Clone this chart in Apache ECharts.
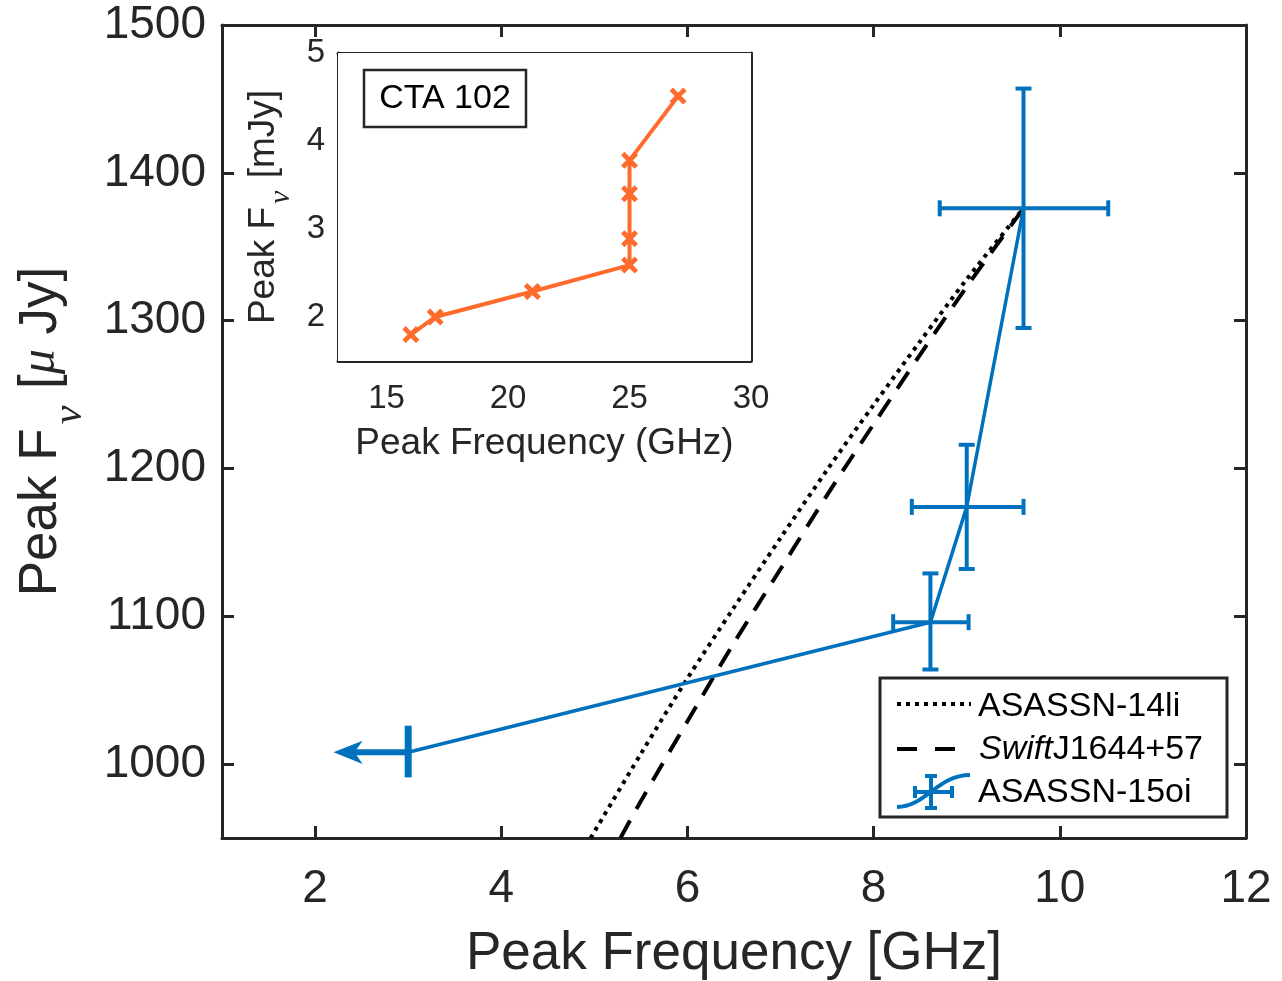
<!DOCTYPE html>
<html><head><meta charset="utf-8">
<script src="https://cdn.jsdelivr.net/npm/echarts@6/dist/echarts.min.js"></script>
<style>html,body{margin:0;padding:0;background:#fff}#c{width:1282px;height:981px}</style>
</head><body><div id="c"></div>
<script>
// ---------- data ----------
const mainXTicks = [2, 4, 6, 8, 10, 12];
const mainYTicks = [1000, 1100, 1200, 1300, 1400, 1500];
const insetXTicks = [15, 20, 25, 30];
const insetYTicks = [2, 3, 4, 5];

// ASASSN-15oi (first epoch is an upper limit in frequency)
const oiX     = [3.0, 8.61, 9.0, 9.61];
const oiY     = [1008, 1096, 1174, 1376];
const oiXLow  = [null, 8.21, 8.41, 8.71];
const oiXHigh = [null, 9.02, 9.61, 10.52];
const oiYLow  = [991, 1064, 1132, 1295];
const oiYHigh = [1026, 1129, 1216, 1457];
const oiLimitTo = 2.22;

// ASASSN-14li track
const li14X = [4.96, 5.5, 6.0, 6.5, 7.0, 7.5, 8.0, 8.5, 9.0, 9.61];
const li14Y = [950, 1007, 1058, 1106, 1153, 1199, 1243, 1286, 1328, 1376];
// Swift J1644+57 track
const swiftX = [5.28, 5.5, 6.0, 6.5, 7.0, 7.5, 8.0, 8.5, 9.0, 9.61];
const swiftY = [950, 975, 1029, 1082, 1132, 1182, 1230, 1277, 1323, 1376];

// CTA 102 (inset)
const ctaX = [16, 17, 21, 25, 25, 25, 25, 27];
const ctaY = [1.80, 2.00, 2.29, 2.59, 2.89, 3.40, 3.78, 4.51];

// ---------- styles ----------
const FONT = '"Liberation Sans", Arial, Helvetica, sans-serif';
const SERIF = '"Liberation Serif", "DejaVu Serif", serif';
const TXT = '#262626';
const BLUE = '#0072BD';
const ORANGE = '#FF6B2C';

const chart = echarts.init(document.getElementById('c'), null, {renderer: 'canvas'});

function frameAxis(base, extra) {
  return Object.assign({
    type: 'value',
    axisLine: {show: true, onZero: false, lineStyle: {color: TXT, width: 3}},
    splitLine: {show: false},
    axisPointer: {show: false}
  }, base, extra);
}
const plain = v => String(v);

const zip = (a, b) => a.map((v, i) => [v, b[i]]);
const errData = oiX.map((x, i) => [x, oiY[i], oiXLow[i], oiXHigh[i], oiYLow[i], oiYHigh[i]])
  .filter(d => d[2] !== null);
const limData = [[oiX[0], oiY[0], oiLimitTo, oiYLow[0], oiYHigh[0]]];

function renderErr(params, api) {
  const x = api.value(0), y = api.value(1);
  const c = api.coord([x, y]);
  const pxl = api.coord([api.value(2), y]), pxh = api.coord([api.value(3), y]);
  const pyl = api.coord([x, api.value(4)]), pyh = api.coord([x, api.value(5)]);
  const st = {stroke: BLUE, lineWidth: 4, lineCap: 'butt'};
  const cap = 8;
  const L = (x1, y1, x2, y2) => ({type: 'line', shape: {x1, y1, x2, y2}, style: st});
  return {type: 'group', children: [
    L(pxl[0], c[1], pxh[0], c[1]),
    L(pxl[0], c[1] - cap, pxl[0], c[1] + cap),
    L(pxh[0], c[1] - cap, pxh[0], c[1] + cap),
    L(c[0], pyl[1], c[0], pyh[1]),
    L(c[0] - cap, pyl[1], c[0] + cap, pyl[1]),
    L(c[0] - cap, pyh[1], c[0] + cap, pyh[1])
  ]};
}

function renderLim(params, api) {
  const x = api.value(0), y = api.value(1);
  const c = api.coord([x, y]);
  const tip = api.coord([api.value(2), y]);
  const pyl = api.coord([x, api.value(3)]), pyh = api.coord([x, api.value(4)]);
  return {type: 'group', children: [
    {type: 'line', shape: {x1: tip[0] + 14, y1: c[1], x2: c[0], y2: c[1]}, style: {stroke: BLUE, lineWidth: 6}},
    {type: 'line', shape: {x1: c[0], y1: pyl[1], x2: c[0], y2: pyh[1]}, style: {stroke: BLUE, lineWidth: 7}},
    {type: 'polygon', shape: {points: [[tip[0], c[1]], [tip[0] + 25, c[1] - 10], [tip[0] + 18, c[1]], [tip[0] + 25, c[1] + 10]]},
      style: {fill: BLUE, stroke: BLUE, lineWidth: 1.5}}
  ]};
}

const X_SYMBOL = 'path://M2,0 L5,3 L8,0 L10,2 L7,5 L10,8 L8,10 L5,7 L2,10 L0,8 L3,5 L0,2 Z';

const option = {
  backgroundColor: '#fff',
  animation: false,
  grid: [
    {left: 222, top: 25, width: 1024, height: 813, containLabel: false, outerBoundsMode: 'none'},
    {left: 338, top: 53, width: 413, height: 308, containLabel: false, outerBoundsMode: 'none', show: true, backgroundColor: '#fff', borderWidth: 0, z: 3}
  ],
  xAxis: [
    frameAxis({gridIndex: 0, min: 1, max: 12, position: 'bottom'}, {
      axisTick: {show: true, inside: true, length: 12, customValues: mainXTicks, lineStyle: {color: TXT, width: 3}},
      axisLabel: {show: true, customValues: mainXTicks, formatter: plain, fontSize: 46, fontFamily: FONT, color: TXT, margin: 28},
      name: 'Peak Frequency [GHz]', nameLocation: 'middle', nameGap: 90,
      nameTextStyle: {fontSize: 53, fontFamily: FONT, color: TXT}
    }),
    frameAxis({gridIndex: 0, min: 1, max: 12, position: 'top'}, {
      axisTick: {show: true, inside: true, length: 12, customValues: mainXTicks, lineStyle: {color: TXT, width: 3}},
      axisLabel: {show: false}
    }),
    frameAxis({gridIndex: 1, min: 13, max: 30, position: 'bottom'}, {
      axisTick: {show: true, inside: true, length: 8, customValues: insetXTicks, lineStyle: {color: TXT, width: 3}},
      axisLabel: {show: true, customValues: insetXTicks, formatter: plain, fontSize: 33, fontFamily: FONT, color: TXT, margin: 21},
      name: 'Peak Frequency (GHz)', nameLocation: 'middle', nameGap: 64,
      nameTextStyle: {fontSize: 37, fontFamily: FONT, color: TXT}
    }),
    frameAxis({gridIndex: 1, min: 13, max: 30, position: 'top'}, {
      axisTick: {show: true, inside: true, length: 8, customValues: insetXTicks, lineStyle: {color: TXT, width: 3}},
      axisLabel: {show: false}
    })
  ],
  yAxis: [
    frameAxis({gridIndex: 0, min: 950, max: 1500, position: 'left'}, {
      axisTick: {show: true, inside: true, length: 12, customValues: mainYTicks, lineStyle: {color: TXT, width: 3}},
      axisLabel: {show: true, customValues: mainYTicks, formatter: plain, fontSize: 46, fontFamily: FONT, color: TXT, margin: 16},
      name: '{a|Peak F}{s|ν}{a| [}{m|μ}{a| Jy]}', nameLocation: 'middle', nameGap: 131,
      nameTextStyle: {rich: {
        a: {fontSize: 53, fontFamily: FONT, color: TXT},
        s: {fontSize: 42, fontFamily: SERIF, fontStyle: 'italic', color: TXT, padding: [58, 2, 0, 4]},
        m: {fontSize: 50, fontFamily: SERIF, fontStyle: 'italic', color: TXT}
      }}
    }),
    frameAxis({gridIndex: 0, min: 950, max: 1500, position: 'right'}, {
      axisTick: {show: true, inside: true, length: 12, customValues: mainYTicks, lineStyle: {color: TXT, width: 3}},
      axisLabel: {show: false}
    }),
    frameAxis({gridIndex: 1, min: 1.5, max: 5, position: 'left'}, {
      axisTick: {show: true, inside: true, length: 8, customValues: insetYTicks, lineStyle: {color: TXT, width: 3}},
      axisLabel: {show: true, customValues: insetYTicks, formatter: plain, fontSize: 33, fontFamily: FONT, color: TXT, margin: 13},
      name: '{a|Peak F}{s|ν}{a| [mJy]}', nameLocation: 'middle', nameGap: 42,
      nameTextStyle: {rich: {
        a: {fontSize: 37, fontFamily: FONT, color: TXT},
        s: {fontSize: 30, fontFamily: SERIF, fontStyle: 'italic', color: TXT, padding: [34, 2, 0, 3]}
      }}
    }),
    frameAxis({gridIndex: 1, min: 1.5, max: 5, position: 'right'}, {
      axisTick: {show: true, inside: true, length: 8, customValues: insetYTicks, lineStyle: {color: TXT, width: 3}},
      axisLabel: {show: false}
    })
  ],
  series: [
    {name: 'ASASSN-14li', type: 'line', xAxisIndex: 0, yAxisIndex: 0, data: zip(li14X, li14Y),
      smooth: 0.3, showSymbol: false, symbol: 'none', clip: true,
      lineStyle: {color: '#000', width: 4, type: [4, 5], cap: 'butt'}, z: 2},
    {name: 'Swift J1644+57', type: 'line', xAxisIndex: 0, yAxisIndex: 0, data: zip(swiftX, swiftY),
      smooth: 0.3, showSymbol: false, symbol: 'none', clip: true,
      lineStyle: {color: '#000', width: 4, type: [20, 13], cap: 'butt'}, z: 2},
    {name: 'ASASSN-15oi', type: 'line', xAxisIndex: 0, yAxisIndex: 0, data: zip(oiX, oiY),
      showSymbol: false, symbol: 'none', lineStyle: {color: BLUE, width: 3.5}, z: 3},
    {type: 'custom', xAxisIndex: 0, yAxisIndex: 0, data: errData, renderItem: renderErr, clip: true, z: 4},
    {type: 'custom', xAxisIndex: 0, yAxisIndex: 0, data: limData, renderItem: renderLim, clip: true, z: 4},
    {name: 'CTA 102', type: 'line', xAxisIndex: 2, yAxisIndex: 2, data: zip(ctaX, ctaY),
      symbol: X_SYMBOL, symbolSize: 17, showSymbol: true,
      itemStyle: {color: ORANGE}, lineStyle: {color: ORANGE, width: 4}, z: 10}
  ],
  graphic: [
    // CTA 102 label box
    {type: 'rect', z: 50, shape: {x: 364, y: 70, width: 162, height: 57},
      style: {fill: '#fff', stroke: TXT, lineWidth: 2.5}},
    {type: 'text', z: 51, x: 445, y: 99, style: {text: 'CTA 102', font: '34px ' + FONT, fill: '#000', textAlign: 'center', textVerticalAlign: 'middle'}},
    // legend
    {type: 'rect', z: 50, shape: {x: 880, y: 678, width: 347, height: 139},
      style: {fill: '#fff', stroke: TXT, lineWidth: 3}},
    {type: 'line', z: 51, shape: {x1: 897, y1: 704, x2: 971, y2: 704}, style: {stroke: '#000', lineWidth: 4, lineDash: [4, 5]}},
    {type: 'text', z: 51, x: 978, y: 707, style: {text: 'ASASSN-14li', font: '34px ' + FONT, fill: '#000', textVerticalAlign: 'middle'}},
    {type: 'line', z: 51, shape: {x1: 897, y1: 749, x2: 957, y2: 749}, style: {stroke: '#000', lineWidth: 4, lineDash: [20, 18]}},
    {type: 'text', z: 51, x: 979, y: 750, style: {
      text: '{i|Swift}{n|J1644+57}', textVerticalAlign: 'middle', fill: '#000',
      rich: {i: {font: 'italic 34px ' + FONT, fill: '#000'}, n: {font: '34px ' + FONT, fill: '#000'}}}},
    {type: 'bezierCurve', z: 51, shape: {x1: 897, y1: 807, cpx1: 925, cpy1: 807, cpx2: 938, cpy2: 775, x2: 970, y2: 775},
      style: {stroke: BLUE, lineWidth: 4, fill: null}},
    {type: 'line', z: 52, shape: {x1: 931, y1: 776, x2: 931, y2: 808}, style: {stroke: BLUE, lineWidth: 4}},
    {type: 'line', z: 52, shape: {x1: 925, y1: 776, x2: 937, y2: 776}, style: {stroke: BLUE, lineWidth: 4}},
    {type: 'line', z: 52, shape: {x1: 925, y1: 808, x2: 937, y2: 808}, style: {stroke: BLUE, lineWidth: 4}},
    {type: 'line', z: 52, shape: {x1: 915, y1: 792, x2: 952, y2: 792}, style: {stroke: BLUE, lineWidth: 4}},
    {type: 'line', z: 52, shape: {x1: 915, y1: 786, x2: 915, y2: 798}, style: {stroke: BLUE, lineWidth: 4}},
    {type: 'line', z: 52, shape: {x1: 952, y1: 786, x2: 952, y2: 798}, style: {stroke: BLUE, lineWidth: 4}},
    {type: 'text', z: 51, x: 978, y: 793, style: {text: 'ASASSN-15oi', font: '34px ' + FONT, fill: '#000', textVerticalAlign: 'middle'}}
  ]
};
chart.setOption(option);
</script>
</body></html>
